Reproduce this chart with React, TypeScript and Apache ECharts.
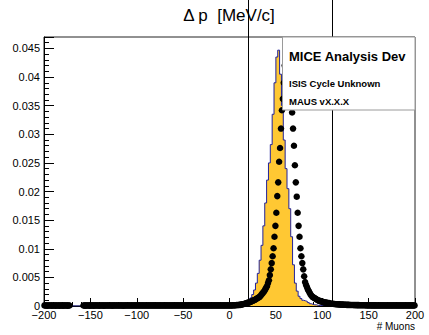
import React, { useEffect, useRef } from "react";
import * as echarts from "echarts";

const titleText = "Δ p  [MeV/c]";
const xAxisTitle = "# Muons";
const xMin = -200;
const xMax = 200;
const xInterval = 50;
const yMin = 0;
const yMax = 0.047;
const yInterval = 0.005;
const cutValues = [20, 110];
const boxLines = ["MICE Analysis Dev", "ISIS Cycle Unknown", "MAUS vX.X.X"];

// yellow histogram: 2 MeV/c bins, first bin starts at 14
const histFirstEdge = 14;
const histBinWidth = 2;
const histValues = [
  0.0003, 0.0006, 0.0009, 0.0011, 0.0014, 0.002, 0.0028, 0.004, 0.0057, 0.008,
  0.0106, 0.014, 0.018, 0.022, 0.025, 0.0282, 0.0335, 0.039, 0.0435, 0.0447,
  0.0405, 0.035, 0.029, 0.024, 0.0205, 0.017, 0.0121, 0.0072, 0.004, 0.0026,
  0.0017, 0.0013, 0.001, 0.0009, 0.0008, 0.0006, 0.0004, 0.0003, 0.0002, 0.0002,
  0.0001, 0.0001, 0.0001,
];

// black markers: 1 MeV/c bins, first centre at -199.5 (null = empty bin)
const dotFirstCenter = -199.5;
const dotBinWidth = 1;
const dotValues: (number | null)[] = [
  // -199.5 .. -100.5
  0.0001, 0.00008, 0.0001, 0.00006, 0.0001, 0.00008, 0.0001, 0.00008, 0.00006, 0.0001,
  0.00008, 0.0001, 0.00006, 0.00008, 0.0001, 0.00008, 0.00006, 0.0001, 0.00008, 0.0001,
  0.00006, 0.0001, 0.00008, 0.0001, 0.00008, 0.00006, 0.0001, 0.00008, null, null,
  null, null, null, null, null, null, null, null, null, null,
  null, null, 0.00008, 0.0001, 0.00006, 0.0001, 0.00008, 0.0001, 0.00008, 0.00006,
  0.0001, 0.00008, 0.0001, 0.00006, 0.0001, 0.00008, 0.0001, 0.00008, 0.0001, 0.00006,
  0.00008, 0.0001, 0.00008, 0.0001, 0.00006, 0.0001, 0.00008, 0.0001, 0.00008, 0.0001,
  0.0001, 0.00008, 0.0001, 0.00006, 0.0001, 0.00008, 0.0001, 0.0001, 0.00008, 0.0001,
  0.00008, 0.0001, 0.0001, 0.00008, 0.0001, 0.00006, 0.0001, 0.00008, 0.0001, 0.0001,
  0.0001, 0.00008, 0.0001, 0.0001, 0.00008, 0.0001, 0.0001, 0.00008, 0.0001, 0.0001,
  // -99.5 .. -0.5
  0.0001, 0.0001, 0.00008, 0.0001, 0.0001, 0.0001, 0.00008, 0.0001, 0.0001, 0.0001,
  0.00008, 0.0001, 0.0001, 0.0001, 0.0001, 0.00008, 0.0001, 0.0001, 0.0001, 0.0001,
  0.0001, 0.0001, 0.00008, 0.0001, 0.0001, 0.0001, 0.0001, 0.0001, 0.00008, 0.0001,
  0.0001, 0.0001, 0.0001, 0.0001, 0.0001, 0.00008, 0.0001, 0.0001, 0.0001, 0.0001,
  0.0001, 0.0001, 0.0001, 0.0001, 0.0001, 0.0001, 0.0001, 0.00008, 0.0001, 0.0001,
  0.0001, 0.0001, 0.0001, 0.0001, 0.0001, 0.0001, 0.0001, 0.0001, 0.0001, 0.0001,
  0.0001, 0.0001, 0.0001, 0.0001, 0.0001, 0.0001, 0.0001, 0.0001, 0.0001, 0.0001,
  0.0001, 0.0001, 0.0001, 0.0001, 0.0001, 0.0001, 0.0001, 0.0001, 0.0001, 0.0001,
  0.0001, 0.0001, 0.0001, 0.0001, 0.0001, 0.0001, 0.0001, 0.0001, 0.0001, 0.0001,
  0.0001, 0.0001, 0.0001, 0.0001, 0.0001, 0.0001, 0.0001, 0.0001, 0.0001, 0.0001,
  // 0.5 .. 109.5
  0.00008, 0.0001, 0.0001, 0.00012, 0.00012, 0.00014, 0.00014, 0.00016, 0.00016, 0.00018,
  0.0002, 0.0002, 0.00025, 0.00028, 0.0003, 0.00035, 0.0004, 0.00045, 0.0005, 0.00055,
  0.0006, 0.00065, 0.0007, 0.0008, 0.0009, 0.00095, 0.001, 0.0011, 0.0012, 0.0013,
  0.0014, 0.0015, 0.0016, 0.0018, 0.002, 0.0022, 0.0024, 0.0026, 0.0029, 0.0032,
  0.0035, 0.004, 0.0045, 0.0054, 0.0064, 0.0075, 0.0087, 0.0101, 0.0121, 0.014,
  0.0163, 0.0192, 0.0216, 0.0252, 0.0276, 0.031, 0.0342, 0.0362, 0.039, 0.042,
  0.044, 0.046, 0.046, 0.046, 0.044, 0.041, 0.037, 0.0338, 0.031, 0.028,
  0.0246, 0.0216, 0.0191, 0.0163, 0.014, 0.0121, 0.0101, 0.0087, 0.0075, 0.0064,
  0.0052, 0.0042, 0.0037, 0.0033, 0.0029, 0.0026, 0.0023, 0.002, 0.0018, 0.0016,
  0.0015, 0.0014, 0.0013, 0.0012, 0.0011, 0.001, 0.0009, 0.0009, 0.0008, 0.0008,
  0.0007, 0.0007, 0.0006, 0.0006, 0.0006, 0.0005, 0.0005, 0.0005, 0.0004, 0.0004,
  // 110.5 .. 199.5
  0.0004, 0.0004, 0.00035, 0.00035, 0.0003, 0.0003, 0.0003, 0.00028, 0.00028, 0.00026,
  0.00025, 0.00025, 0.00024, 0.00023, 0.00022, 0.00022, 0.0002, 0.0002, 0.0002, 0.00019,
  0.00018, 0.00018, 0.00017, 0.00017, 0.00016, 0.00016, 0.00016, 0.00015, 0.00015, 0.00015,
  0.00014, 0.00014, 0.00014, 0.00013, 0.00013, 0.00013, 0.00013, 0.00012, 0.00012, 0.00012,
  0.00012, 0.00012, 0.00011, 0.00011, 0.00011, 0.00011, 0.00011, 0.00011, 0.0001, 0.0001,
  0.0001, 0.0001, 0.0001, 0.0001, 0.0001, 0.0001, 0.0001, 0.0001, 0.0001, 0.0001,
  0.0001, 0.0001, 0.0001, 0.0001, 0.0001, 0.0001, 0.0001, 0.0001, 0.0001, 0.0001,
  0.0001, 0.0001, 0.0001, 0.0001, 0.0001, 0.0001, 0.0001, 0.0001, 0.0001, 0.0001,
  0.0001, 0.0001, 0.0001, 0.0001, 0.0001, 0.0001, 0.0001, 0.0001, 0.0001, 0.0001,
];

const FONT = "'Liberation Sans', Arial, Helvetica, sans-serif";

export default function App() {
  const ref = useRef<HTMLDivElement | null>(null);

  useEffect(() => {
    if (!ref.current) return;
    const chart = echarts.init(ref.current, undefined, { renderer: "svg" });

    const histData: [number, number][] = [[xMin, 0]];
    histValues.forEach((v, i) => histData.push([histFirstEdge + i * histBinWidth, v]));
    histData.push([histFirstEdge + histValues.length * histBinWidth, 0]);
    histData.push([xMax, 0]);

    const dotData: [number, number][] = [];
    dotValues.forEach((v, i) => {
      if (v !== null) dotData.push([dotFirstCenter + i * dotBinWidth, v]);
    });

    const gridLeft = 44;
    const gridRight = 14;
    const gridTop = 37;
    const gridBottom = 29;
    const W = 429;
    const H = 335;

    chart.setOption({
      animation: false,
      backgroundColor: "#ffffff",
      textStyle: { fontFamily: FONT },
      grid: {
        left: gridLeft,
        right: gridRight,
        top: gridTop,
        bottom: gridBottom,
        show: true,
        borderColor: "#222",
        borderWidth: 1,
        backgroundColor: "transparent",
      },
      xAxis: {
        type: "value",
        min: xMin,
        max: xMax,
        interval: xInterval,
        axisLine: { show: true, onZero: false, lineStyle: { color: "#000", width: 1 } },
        axisTick: { show: true, inside: true, length: 8, lineStyle: { color: "#000" } },
        minorTick: { show: true, splitNumber: 5, length: 4, lineStyle: { color: "#000" } },
        splitLine: { show: false },
        axisLabel: {
          color: "#000",
          fontSize: 11,
          fontFamily: FONT,
          margin: 3,
          formatter: (v: number) => (v < 0 ? "\u2212" + Math.abs(v) : String(v)),
        },
      },
      yAxis: {
        type: "value",
        min: yMin,
        max: yMax,
        interval: yInterval,
        axisLine: { show: true, onZero: false, lineStyle: { color: "#000", width: 1 } },
        axisTick: { show: true, inside: true, length: 10, lineStyle: { color: "#000" } },
        minorTick: { show: true, splitNumber: 5, length: 5, lineStyle: { color: "#000" } },
        splitLine: { show: false },
        axisLabel: {
          color: "#000",
          fontSize: 11,
          fontFamily: FONT,
          margin: 4,
          showMaxLabel: false,
          formatter: (v: number) => String(parseFloat(v.toFixed(3))),
        },
      },
      series: [
        {
          type: "line",
          data: histData,
          step: "end",
          symbol: "none",
          lineStyle: { color: "#22229a", width: 1 },
          areaStyle: { color: "#ffc833", opacity: 1 },
          z: 2,
        },
        {
          type: "scatter",
          data: dotData,
          symbol: "circle",
          symbolSize: 6.5,
          itemStyle: { color: "#000", opacity: 1 },
          z: 3,
        },
      ],
    });

    const bottomY = H - gridBottom;
    const cutLines = cutValues.map((v) => {
      const px = chart.convertToPixel({ xAxisIndex: 0 }, v) as number;
      return {
        type: "line",
        z: 50,
        shape: { x1: Math.round(px) + 0.5, y1: 0, x2: Math.round(px) + 0.5, y2: bottomY },
        style: { stroke: "#000", lineWidth: 1 },
      };
    });

    const boxX = 282.5;
    const boxRight = W - gridRight;

    chart.setOption({
      graphic: [
        {
          type: "text",
          x: 229,
          y: 15,
          z: 70,
          style: {
            text: titleText,
            font: `17px ${FONT}`,
            fill: "#000",
            textAlign: "center",
            textVerticalAlign: "middle",
          },
        },
        {
          type: "text",
          x: boxRight,
          y: 326,
          z: 70,
          style: {
            text: xAxisTitle,
            font: `10px ${FONT}`,
            fill: "#000",
            textAlign: "right",
            textVerticalAlign: "middle",
          },
        },
        ...cutLines,
        {
          type: "rect",
          z: 60,
          shape: { x: boxX, y: gridTop, width: boxRight - boxX, height: 73 },
          style: { fill: "#fff", stroke: "#9a9a9a", lineWidth: 1 },
        },
        {
          type: "text",
          x: 289,
          y: 56,
          z: 61,
          style: {
            text: boxLines[0],
            font: `bold 13px ${FONT}`,
            fill: "#000",
            textAlign: "left",
            textVerticalAlign: "middle",
          },
        },
        {
          type: "text",
          x: 289,
          y: 83,
          z: 61,
          style: {
            text: boxLines[1],
            font: `bold 9.5px ${FONT}`,
            fill: "#000",
            textAlign: "left",
            textVerticalAlign: "middle",
          },
        },
        {
          type: "text",
          x: 289,
          y: 101,
          z: 61,
          style: {
            text: boxLines[2],
            font: `bold 9.5px ${FONT}`,
            fill: "#000",
            textAlign: "left",
            textVerticalAlign: "middle",
          },
        },
      ],
    });

    return () => {
      chart.dispose();
    };
  }, []);

  return (
    <div
      ref={ref}
      style={{ position: "fixed", left: 0, top: 0, width: 429, height: 335, background: "#fff" }}
    />
  );
}
